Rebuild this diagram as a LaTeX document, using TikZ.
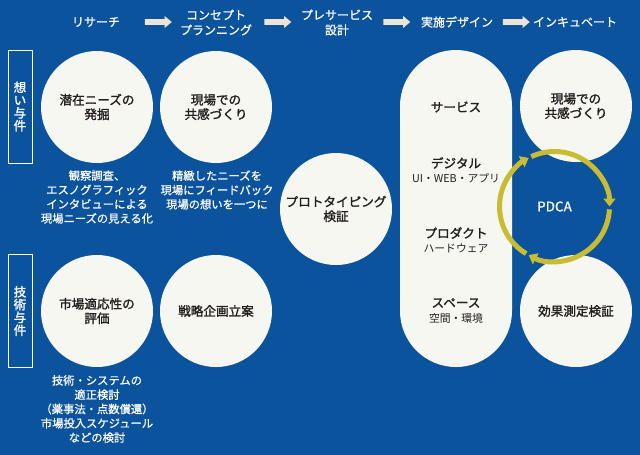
\documentclass[tikz,border=0pt]{standalone}
\usepackage{fontspec}
\setmainfont{Noto Sans CJK JP}
\newfontfamily\medfont{Noto Sans CJK JP}[FakeBold=1.6]
\newfontfamily\lightmed{Noto Sans CJK JP}[FakeBold=0.7]
\usetikzlibrary{arrows.meta,shapes.arrows}
\definecolor{bgblue}{HTML}{0C539D}
\definecolor{cw}{HTML}{F6F7F1}
\definecolor{ink}{HTML}{231F20}
\definecolor{hdrarr}{HTML}{ECE5D5}
\definecolor{ring}{HTML}{C8BC32}
\tikzset{
  hdr/.style={text=white, font=\lightmed\fontsize{12}{15}\selectfont, align=center, inner sep=0pt},
  hdrarrow/.style={single arrow, fill=hdrarr, draw=none, minimum height=27pt, minimum width=12pt,
    inner sep=2.7pt, single arrow head extend=3pt, single arrow tip angle=80, shape border rotate=0},
  bigc/.style={circle, fill=cw, minimum size=112pt, inner sep=0pt, align=center, text=ink,
    font=\medfont\fontsize{12.6}{14.5}\selectfont},
  note/.style={text=white, align=center, inner sep=0pt, font=\lightmed\fontsize{11.3}{14.3}\selectfont},
  sidebox/.style={draw=white, line width=0.9pt, minimum width=24pt, minimum height=113pt, inner sep=0pt,
    align=center, text=white, font=\medfont\fontsize{12.5}{12.8}\selectfont},
  pilltitle/.style={text=ink, inner sep=0pt, font=\medfont\fontsize{12.6}{14}\selectfont},
  pillsub/.style={text=ink, inner sep=0pt, font=\fontsize{10.8}{13}\selectfont},
  pdcaarc/.style={draw=ring, line width=5pt, -{Triangle[width=12pt,length=8pt]}},
}
\begin{document}
\begin{tikzpicture}[x=1pt,y=-1pt]
\useasboundingbox (0,0) rectangle (640,455);
\fill[bgblue] (0,0) rectangle (640,455);

% header
\node[hdr] (h1) at (96,22) {リサーチ};
\node[hdr] (h2) at (216,22.5) {コンセプト\\プランニング};
\node[hdr] (h3) at (337,22.5) {プレサービス\\設計};
\node[hdr] (h4) at (457,22) {実施デザイン};
\node[hdr] (h5) at (575,22) {インキュベート};
\node[hdrarrow] (a1) at (156.5,22) {};
\node[hdrarrow] (a2) at (276,22) {};
\node[hdrarrow] (a3) at (395,22) {};
\node[hdrarrow] (a4) at (514.5,22) {};

% side labels
\node[sidebox] (s1) at (20,106.5) {想\\い\\与\\件};
\node[sidebox] (s2) at (20,311) {技\\術\\与\\件};

% circles
\node[bigc] (c1) at (97,107) {潜在ニーズの\\発掘};
\node[bigc] (c2) at (216,107) {現場での\\共感づくり};
\node[bigc] (c3) at (97,311) {市場適応性の\\評価};
\node[bigc] (c4) at (216,311) {戦略企画立案};
\node[bigc] (c5) at (336,209) {プロトタイピング\\検証};
\node[bigc] (c6) at (576,106) {現場での\\共感づくり};
\node[bigc] (c7) at (576,311) {効果測定検証};

% notes
\node[note] (n1) at (97,197) {観察調査、\\エスノグラフィック\\インタビューによる\\現場ニーズの見える化};
\node[note] (n2) at (217,190) {精緻したニーズを\\現場にフィードバック\\現場の想いを一つに};
\node[note] (n3) at (97,409) {技術・システムの\\適正検討\\（薬事法・点数償還）\\市場投入スケジュール\\などの検討};

% pill
\node[rectangle, rounded corners=56pt, fill=cw, minimum width=112pt, minimum height=317pt, inner sep=0pt] (pill) at (456,208.5) {};
\node[pilltitle] (p1) at (456,107) {サービス};
\node[pilltitle] (p2) at (456,163) {デジタル};
\node[pillsub] (p2s) at (456,178) {UI・WEB・アプリ};
\node[pilltitle] (p3) at (456,233) {プロダクト};
\node[pillsub] (p3s) at (456,248) {ハードウェア};
\node[pilltitle] (p4) at (456,303) {スペース};
\node[pillsub] (p4s) at (456,318) {空間・環境};

% PDCA
\coordinate (pc) at (554.5,206.5);
\node[text=white, inner sep=0pt, font=\lightmed\fontsize{13.5}{15}\selectfont] (pdca) at (pc) {PDCA};
\draw[pdcaarc] (pc) ++(-115:55) arc[start angle=-115, end angle=0, radius=55];
\draw[pdcaarc] (pc) ++(3:55) arc[start angle=3, end angle=118, radius=55];
\draw[pdcaarc] (pc) ++(121:55) arc[start angle=121, end angle=242, radius=55];
\end{tikzpicture}
\end{document}
